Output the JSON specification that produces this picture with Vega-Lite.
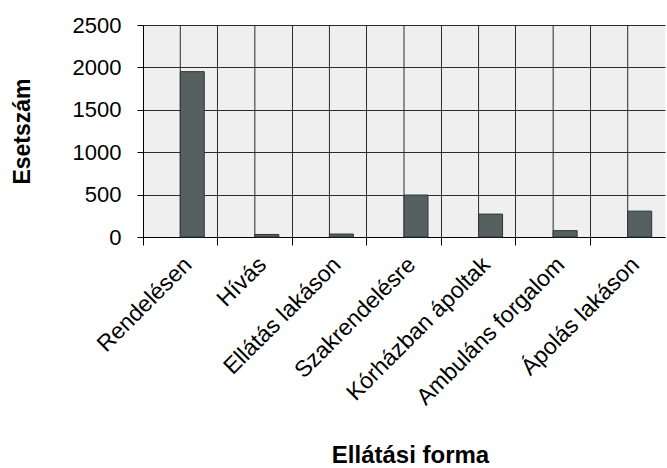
{
  "$schema": "https://vega.github.io/schema/vega-lite/v6.json",
  "width": 522,
  "height": 212,
  "autosize": {"type": "none"},
  "padding": {"left": 143, "top": 25, "right": 2, "bottom": 231},
  "background": "white",
  "config": {
    "font": "Liberation Sans",
    "view": {"fill": "#efefef", "stroke": null}
  },
  "data": {
    "values": [
      {"forma": "Rendelésen", "eset": 1950},
      {"forma": "Hívás", "eset": 30},
      {"forma": "Ellátás lakáson", "eset": 35},
      {"forma": "Szakrendelésre", "eset": 495},
      {"forma": "Kórházban ápoltak", "eset": 270},
      {"forma": "Ambuláns forgalom", "eset": 75},
      {"forma": "Ápolás lakáson", "eset": 305}
    ]
  },
  "encoding": {
    "x": {
      "field": "forma",
      "type": "nominal",
      "sort": null,
      "scale": {"paddingInner": 0, "paddingOuter": 0},
      "axis": {
        "title": "Ellátási forma",
        "bandPosition": 0,
        "labelAngle": -45,
        "labelFontSize": 23,
        "labelLimit": 0,
        "labelColor": "black",
        "labelPadding": 8,
        "tickSize": 8,
        "tickColor": "black",
        "domainColor": "black",
        "grid": true,
        "gridColor": "#2b2b2b",
        "gridOpacity": 1,
        "titleFontSize": 24,
        "titleFontWeight": "bold",
        "titleColor": "black",
        "titleX": 267,
        "titleY": 225,
        "titleBaseline": "alphabetic"
      }
    }
  },
  "layer": [
    {
      "mark": {"type": "rule", "color": "#2b2b2b", "strokeWidth": 1},
      "encoding": {}
    },
    {
      "mark": {"type": "bar", "color": "#56615f", "stroke": "#2f3535", "strokeWidth": 1},
      "encoding": {
        "xOffset": {"datum": "b", "type": "nominal", "scale": {"domain": ["a", "b"], "paddingInner": 0, "paddingOuter": 0.555}},
        "y": {
          "field": "eset",
          "type": "quantitative",
          "scale": {"domain": [0, 2500], "nice": false},
          "axis": {
            "title": "Esetszám",
            "values": [0, 500, 1000, 1500, 2000, 2500],
            "format": "d",
            "grid": true,
            "gridColor": "#2b2b2b",
            "gridOpacity": 1,
            "tickSize": 6,
            "tickColor": "black",
            "domainColor": "black",
            "labelFontSize": 22,
            "labelColor": "black",
            "labelPadding": 16,
            "titleFontSize": 23,
            "titleFontWeight": "bold",
            "titleColor": "black",
            "titlePadding": 38
          }
        }
      }
    }
  ]
}
